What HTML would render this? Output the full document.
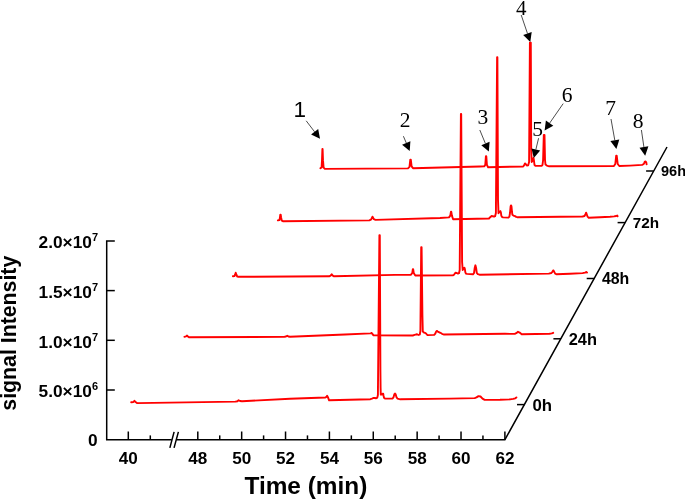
<!DOCTYPE html>
<html lang="en"><head><meta charset="utf-8"><title>Chromatogram</title>
<style>html,body{margin:0;padding:0;background:#fff}svg{display:block}</style></head>
<body>
<svg width="685" height="500" viewBox="0 0 685 500">
<rect width="685" height="500" fill="#fff"/>
<g stroke="#000" stroke-width="1.5" fill="none" stroke-linecap="butt">
<path d="M114.8,240.9H106.7V439.7H171.8M176.4,439.7H504.9L667,147"/>
<path d="M106.7,290.6H114.8"/>
<path d="M106.7,340.3H114.8"/>
<path d="M106.7,390.0H114.8"/>
<path d="M128.3,439.7V431.5"/>
<path d="M197.8,439.7V431.5"/>
<path d="M241.67,439.7V431.5"/>
<path d="M285.54,439.7V431.5"/>
<path d="M329.41,439.7V431.5"/>
<path d="M373.28,439.7V431.5"/>
<path d="M417.15,439.7V431.5"/>
<path d="M461.02,439.7V431.5"/>
<path d="M504.89,439.7V431.5"/>
<path d="M150.30,439.7V435.4"/>
<path d="M219.73,439.7V435.4"/>
<path d="M263.60,439.7V435.4"/>
<path d="M307.47,439.7V435.4"/>
<path d="M351.34,439.7V435.4"/>
<path d="M395.21,439.7V435.4"/>
<path d="M439.08,439.7V435.4"/>
<path d="M482.95,439.7V435.4"/>
<path d="M169.85,447.9L174.1,431.9M174.05,447.9L178.4,431.9"/>
<path d="M517.0,404.6H524.6"/>
<path d="M553.4,338.8H561.0"/>
<path d="M586.7,278.5H594.3"/>
<path d="M617.6,222.6H625.2"/>
<path d="M646.1,171H653.7"/>
</g>
<g stroke="#ff0000" stroke-width="1.9" fill="none" stroke-linejoin="round" stroke-linecap="round">
<polyline points="320.4,168.2 321.6,167.4 322.0,160.4 322.4,149.0 322.6,149.0 323.0,160.4 323.6,167.6 324.9,168.9 408.0,168.4 409.5,166.9 410.3,159.6 410.8,159.6 411.6,166.4 413.0,168.2 480.0,166.5 484.2,166.4 485.3,164.9 485.9,156.2 486.3,156.2 486.9,164.9 488.1,167.2 523.2,166.5 524.2,165.2 525.0,163.4 525.8,164.2 526.8,165.5 528.2,165.2 529.1,162.0 529.9,42.6 530.8,42.6 531.2,150.0 531.7,162.0 532.5,161.0 533.5,158.0 534.0,161.0 534.5,165.0 535.4,165.8 541.4,165.9 542.5,165.0 543.1,160.0 543.8,135.0 544.5,135.0 545.0,160.0 545.5,164.6 546.8,165.6 549.2,166.3 613.9,166.0 615.3,164.0 616.2,155.6 616.7,155.6 617.7,164.0 619.3,166.0 630.0,165.6 642.1,164.9 643.8,164.0 644.8,161.6 645.6,161.4 646.3,162.6 646.6,164.3"/>
<polyline points="277.9,220.4 279.5,220.0 280.0,217.1 280.3,214.6 280.7,214.6 281.1,217.4 281.8,220.6 282.9,221.2 369.3,220.4 371.0,219.6 372.5,216.7 373.9,219.2 375.5,219.9 440.0,218.0 449.0,217.4 450.3,215.6 450.9,211.8 451.3,211.8 451.9,215.6 453.1,219.2 489.0,218.5 490.2,217.2 491.6,216.0 492.8,216.2 494.0,216.7 495.1,216.2 495.9,213.0 497.1,57.3 497.4,57.3 498.0,200.0 498.5,213.2 499.4,212.2 500.4,211.1 500.9,212.5 501.3,215.6 501.9,216.9 503.0,217.4 508.4,217.6 509.4,216.6 510.0,213.0 510.6,206.5 510.9,205.5 511.2,205.5 511.5,206.5 512.0,212.0 512.4,214.8 513.4,215.6 515.0,216.1 516.2,216.9 517.2,217.2 582.6,216.5 584.5,216.0 585.5,214.2 586.1,212.7 586.7,214.2 587.6,216.7 588.7,217.8 600.0,217.3 610.0,216.8 614.1,216.4 616.2,216.0 617.2,215.5 617.6,216.2"/>
<polyline points="232.9,276.3 234.5,276.0 235.1,274.7 235.7,272.7 236.4,274.7 237.2,276.5 238.6,276.8 329.2,276.3 330.6,275.7 331.7,274.3 332.8,275.7 334.0,276.3 395.0,274.9 411.0,274.7 412.3,273.0 412.8,269.3 413.2,269.3 413.7,273.0 415.3,275.5 452.8,275.4 454.0,274.7 455.4,272.8 456.8,273.0 458.0,273.6 459.0,273.2 459.7,270.0 460.9,113.9 461.2,113.9 462.1,262.0 462.7,270.0 463.5,268.8 464.4,267.7 464.9,269.0 465.3,272.2 465.9,273.6 467.0,273.9 473.0,274.3 474.0,273.2 474.7,268.0 475.4,265.3 476.1,268.0 476.8,273.0 477.8,274.2 479.5,274.7 548.8,273.6 551.4,273.0 552.5,271.6 553.3,270.4 554.1,271.6 555.2,273.6 556.4,274.3 570.0,273.8 582.6,273.1 585.0,272.6 586.5,272.0 587.0,272.6"/>
<polyline points="184.4,336.8 186.0,336.4 186.9,335.6 187.9,336.4 189.0,337.3 284.2,336.9 286.0,336.5 287.2,335.8 288.4,336.5 290.0,336.7 345.0,334.5 370.3,333.4 371.1,333.2 371.6,333.0 372.2,333.6 373.5,335.3 412.8,335.5 414.6,334.9 416.4,334.3 417.6,334.5 418.7,335.0 419.8,334.5 420.4,331.0 421.2,247.3 421.6,247.3 422.4,315.0 422.8,331.4 423.6,332.4 425.6,333.2 426.6,334.2 427.6,335.1 434.2,334.9 435.3,333.6 436.0,331.8 436.8,330.9 437.8,331.6 440.4,332.8 442.0,333.8 443.6,334.5 505.0,333.8 514.7,333.9 516.3,333.2 518.0,331.8 519.6,332.6 521.7,334.3 549.5,333.8 551.8,333.4 553.2,332.8"/>
<polyline points="131.2,402.3 133.4,402.0 134.4,400.8 135.6,402.0 137.0,403.1 235.4,401.6 237.4,401.2 238.6,400.2 240.0,401.0 242.0,401.2 290.0,398.8 325.5,397.5 326.4,396.9 327.1,395.8 327.9,397.2 329.1,400.3 370.4,399.2 372.0,398.6 373.2,398.0 374.8,398.0 376.2,398.3 377.3,397.6 377.9,395.0 379.4,235.3 379.8,235.3 380.4,370.0 380.6,388.0 380.8,394.6 381.8,394.5 382.6,393.7 383.2,393.7 383.6,396.0 384.1,398.0 385.2,398.6 392.6,398.6 393.5,397.2 394.3,394.4 395.0,393.5 395.7,394.4 396.5,397.2 397.4,398.6 400.3,399.3 450.0,398.6 474.7,398.1 476.5,397.4 478.5,396.1 480.5,396.5 482.5,398.6 484.7,399.9 500.0,399.8 510.0,399.4 513.2,398.9 515.3,398.3 516.4,397.4"/>
</g>
<g font-family="'Liberation Sans', Arial, sans-serif" font-weight="bold" fill="#000">
<g font-size="17.1px" text-anchor="middle">
<text x="128.3" y="464">40</text>
<text x="197.8" y="464">48</text>
<text x="241.67" y="464">50</text>
<text x="285.54" y="464">52</text>
<text x="329.41" y="464">54</text>
<text x="373.28" y="464">56</text>
<text x="417.15" y="464">58</text>
<text x="461.02" y="464">60</text>
<text x="504.89" y="464">62</text>
</g>
<g font-size="17.3px" text-anchor="end">
<text x="97.6" y="445.6">0</text>
<text x="98" y="397.3">5.0×10<tspan font-size="11px" dy="-7">6</tspan></text>
<text x="98" y="347.6">1.0×10<tspan font-size="11px" dy="-7">7</tspan></text>
<text x="98" y="298.0">1.5×10<tspan font-size="11px" dy="-7">7</tspan></text>
<text x="98" y="248.3">2.0×10<tspan font-size="11px" dy="-7">7</tspan></text>
</g>
<g>
<text x="532.5" y="410.6" font-size="16.8px">0h</text>
<text x="568.7" y="344.8" font-size="16.4px">24h</text>
<text x="601.9" y="284.2" font-size="15.9px">48h</text>
<text x="632.7" y="228.0" font-size="15.3px">72h</text>
<text x="661.0" y="176.0" font-size="14.5px">96h</text>
</g>
<text x="305.9" y="494" font-size="24.4px" text-anchor="middle">Time (min)</text>
<text transform="translate(15.5,333.2) rotate(-90)" font-size="21.3px" text-anchor="middle">signal Intensity</text>
</g>
<g font-family="'Liberation Serif', 'Times New Roman', serif" font-size="21.5px" fill="#000" text-anchor="middle">
<text x="405.2" y="127.2" font-size="21.5px">2</text>
<text x="482.8" y="123.8" font-size="21.5px">3</text>
<text x="521.2" y="14.6" font-size="21px">4</text>
<text x="537.5" y="135.8" font-size="21.5px">5</text>
<text x="567.2" y="101.6" font-size="21.5px">6</text>
<text x="610.5" y="115.3" font-size="21.5px">7</text>
<text x="638" y="128.2" font-size="21.5px">8</text>
</g>
<text x="299.8" y="117" font-family="'Liberation Sans', Arial, sans-serif" font-size="22.5px" text-anchor="middle">1</text>
<g stroke="#000" stroke-width="0.7" fill="#000">
<path d="M306.2,120.8L314.6,131.8" fill="none"/>
<path d="M320.0,138.8L311.1,134.6L318.2,129.1Z" stroke="none"/>
<path d="M403.4,136.2L406.3,143.0" fill="none"/>
<path d="M409.7,151.1L402.1,144.7L410.4,141.2Z" stroke="none"/>
<path d="M479.8,130.0L485.4,143.5" fill="none"/>
<path d="M488.8,151.6L481.3,145.2L489.6,141.7Z" stroke="none"/>
<path d="M521.2,15.0L527.5,33.6" fill="none"/>
<path d="M530.3,41.9L523.2,35.0L531.7,32.1Z" stroke="none"/>
<path d="M538.6,138.2L535.9,149.4" fill="none"/>
<path d="M533.8,158.0L531.5,148.4L540.2,150.5Z" stroke="none"/>
<path d="M563.2,103.6L549.6,123.2" fill="none"/>
<path d="M544.6,130.4L545.9,120.6L553.3,125.7Z" stroke="none"/>
<path d="M611.0,119.0L614.8,140.3" fill="none"/>
<path d="M616.4,149.0L610.4,141.1L619.3,139.5Z" stroke="none"/>
<path d="M641.4,130.0L643.9,147.0" fill="none"/>
<path d="M645.2,155.7L639.5,147.7L648.4,146.3Z" stroke="none"/>
</g>
</svg>
</body></html>
